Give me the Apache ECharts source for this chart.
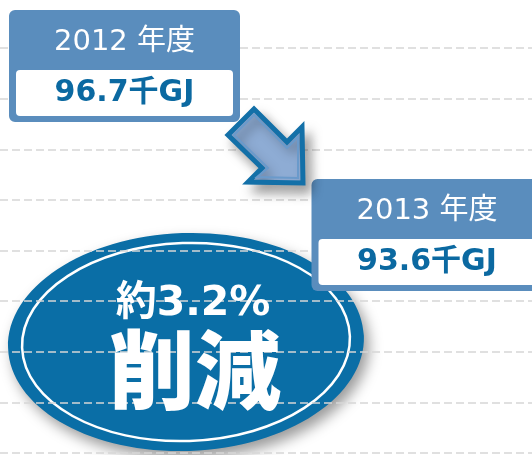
<!DOCTYPE html>
<html>
<head>
<meta charset="utf-8">
<script src="https://cdn.jsdelivr.net/npm/echarts@6/dist/echarts.min.js"></script>
<style>
  html, body { margin: 0; padding: 0; background: #fff; }
  #main { width: 532px; height: 455px; }
</style>
</head>
<body>
<div id="main"></div>
<script>
// data
const years = ['2012 年度', '2013 年度'];
const values = [96.7, 93.6];
const unit = '千GJ';

const FONT = '"DejaVu Sans", "Noto Sans CJK JP", sans-serif';
const boxBlue = '#5a8dbd';
const textBlue = '#0b69a1';
const darkBlue = '#0a6ea6';

const chart = echarts.init(document.getElementById('main'));

// reduction rate from the two values
const rate = ((values[0] - values[1]) / values[0] * 100).toFixed(1);

const option = {
    animation: false,
    grid: [
        // background guide lines
        { left: 0, right: 0, top: 48, bottom: 2 },
        // value boxes
        { left: 124.5, right: 105, top: 105.6, bottom: 76.8 }
    ],
    xAxis: [
        { gridIndex: 0, type: 'category', data: years, show: false },
        { gridIndex: 1, type: 'category', data: years, boundaryGap: false, show: false }
    ],
    yAxis: [
        {
            gridIndex: 0, type: 'value', min: 0, max: 8, interval: 1,
            axisLine: { show: false }, axisTick: { show: false }, axisLabel: { show: false },
            splitLine: { show: true, lineStyle: { color: '#d6d6d6', width: 1.5, type: [8, 4] } }
        },
        {
            gridIndex: 1, type: 'value', min: 92, max: 97, show: false,
            splitLine: { show: false }
        }
    ],
    series: [
        {
            type: 'custom',
            xAxisIndex: 1,
            yAxisIndex: 1,
            z: 3,
            data: values.map((v, i) => [i, v]),
            renderItem: function (params, api) {
                const i = params.dataIndex;
                const p = api.coord([api.value(0), api.value(1)]);
                const w = 231, h = 112;
                const x = p[0] - w / 2, y = p[1] - h;
                return {
                    type: 'group',
                    children: [
                        { type: 'rect', shape: { x: x, y: y, width: w, height: h, r: 6 }, style: { fill: boxBlue } },
                        { type: 'rect', shape: { x: x + 7, y: y + 60, width: w - 14, height: 46, r: 4 }, style: { fill: '#fff' } },
                        {
                            type: 'text',
                            style: {
                                x: p[0], y: y + 33, text: years[i], fill: '#fff',
                                font: '29px ' + FONT, align: 'center', verticalAlign: 'middle'
                            }
                        },
                        {
                            type: 'text',
                            style: {
                                x: p[0], y: y + 83, text: values[i].toFixed(1) + unit, fill: textBlue,
                                font: 'bold 30px ' + FONT, align: 'center', verticalAlign: 'middle'
                            }
                        }
                    ]
                };
            }
        }
    ],
    graphic: [
        // arrow
        {
            type: 'polygon',
            z: 20,
            shape: { points: [[228, 135], [254, 109], [287, 142], [302, 127], [303, 183], [248, 182], [262, 168]] },
            style: {
                fill: '#8eacd4', stroke: '#1370a8', lineWidth: 5, lineJoin: 'miter',
                shadowBlur: 12, shadowOffsetX: 6, shadowOffsetY: 8, shadowColor: 'rgba(0,0,0,0.35)'
            }
        },
        {
            type: 'polygon',
            z: 21,
            shape: { points: [[234, 135], [254, 115], [287, 148], [298, 137], [298, 178], [257, 177], [268, 168]] },
            style: { fill: 'none', stroke: '#6a9acb', lineWidth: 2, lineJoin: 'miter' }
        },
        // ellipse badge
        {
            type: 'group',
            x: 186, y: 342,
            rotation: 0.035,
            z: 30,
            children: [
                {
                    type: 'ellipse',
                    shape: { cx: 0, cy: 0, rx: 178, ry: 109 },
                    style: {
                        fill: darkBlue,
                        shadowBlur: 14, shadowOffsetX: 5, shadowOffsetY: 7, shadowColor: 'rgba(0,0,0,0.4)'
                    }
                },
                {
                    type: 'ellipse',
                    shape: { cx: 0, cy: 0, rx: 164, ry: 99 },
                    style: { fill: 'none', stroke: '#fff', lineWidth: 2.5 }
                }
            ]
        },
        {
            type: 'text',
            z: 31,
            style: {
                x: 193, y: 304, text: '約' + rate + '%', fill: '#fff',
                font: 'bold 41px ' + FONT, align: 'center', verticalAlign: 'middle'
            }
        },
        {
            type: 'text',
            z: 31,
            style: {
                x: 195, y: 370, text: '削減', fill: '#fff',
                font: '900 86px "Noto Sans CJK JP", sans-serif', align: 'center', verticalAlign: 'middle'
            }
        }
    ]
};

chart.setOption(option);
</script>
</body>
</html>
